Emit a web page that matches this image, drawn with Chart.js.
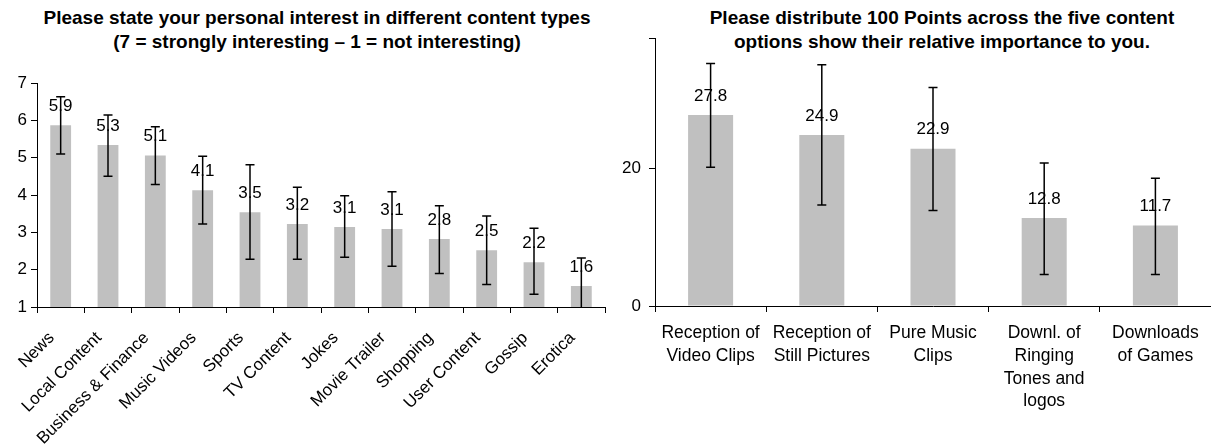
<!DOCTYPE html>
<html>
<head>
<meta charset="utf-8">
<script src="https://cdn.jsdelivr.net/npm/chart.js@4"></script>
<style>
  html, body { margin: 0; padding: 0; background: #fff; overflow: hidden; }
  body { width: 1211px; height: 446px; position: relative; font-family: "Liberation Sans", Arial, sans-serif; }
  .title { position: absolute; font-weight: bold; font-size: 19px; line-height: 24px; text-align: center; color: #000; white-space: nowrap; }
  #t1 { left: 17px; width: 600px; top: 6px; }
  #t2 { left: 642px; width: 600px; top: 6px; }
  #c1 { position: absolute; left: 0; top: 0; }
  #c2 { position: absolute; left: 615px; top: 0; }
</style>
</head>
<body>
<div class="title" id="t1">Please state your personal interest in different content types<br>(7 = strongly interesting – 1 = not interesting)</div>
<div class="title" id="t2">Please distribute 100 Points across the five content<br>options show their relative importance to you.</div>
<canvas id="c1" width="620" height="446"></canvas>
<canvas id="c2" width="596" height="446"></canvas>
<script>
// left chart: interest 7..1
const types=['News','Local Content','Business & Finance','Music Videos','Sports','TV Content','Jokes','Movie Trailer','Shopping','User Content','Gossip','Erotica'];
const interest=[5.87,5.34,5.06,4.13,3.54,3.22,3.14,3.09,2.82,2.52,2.20,1.56];
const interestHigh=[6.63,6.14,5.83,5.04,4.81,4.21,3.98,4.09,3.71,3.44,3.11,2.31];
const interestLow=[5.10,4.50,4.28,3.22,2.28,2.28,2.33,2.09,1.90,1.60,1.34,0.81];
const interestTicks=[1,2,3,4,5,6,7];

// right chart: 100 points
const options5=[['Reception of','Video Clips'],['Reception of','Still Pictures'],['Pure Music','Clips'],['Downl. of','Ringing','Tones and','logos'],['Downloads','of Games']];
const points=[27.8,24.9,22.9,12.8,11.7];
const pointsHigh=[35.3,35.1,31.8,20.8,18.6];
const pointsLow=[20.2,14.7,13.9,4.6,4.6];
const pointsTicks=[0,20,39];

Chart.defaults.font.family='"Liberation Sans", Arial, sans-serif';
Chart.defaults.color='#000';
Chart.defaults.animation=false;

// error bars + value labels
function barExtras(high,low,labelFont){
  return {
    id:'extras',
    afterDatasetsDraw(chart){
      const ctx=chart.ctx, y=chart.scales.y, a=chart.chartArea;
      const meta=chart.getDatasetMeta(0);
      ctx.save();
      // value labels
      ctx.fillStyle='#000';
      ctx.font=labelFont;
      ctx.textAlign='center';
      ctx.textBaseline='middle';
      meta.data.forEach((bar,i)=>{
        const v=chart.data.datasets[0].data[i];
        ctx.fillText(v.toFixed(1),bar.x,bar.y-19);
      });
      ctx.beginPath();
      ctx.rect(a.left,a.top-10,a.right-a.left,a.bottom-a.top+10);
      ctx.clip();
      ctx.strokeStyle='#000';
      ctx.lineWidth=1.5;
      meta.data.forEach((bar,i)=>{
        const yh=y.getPixelForValue(high[i]);
        const yl=y.getPixelForValue(low[i]);
        ctx.beginPath();
        ctx.moveTo(bar.x,yh);ctx.lineTo(bar.x,yl);
        ctx.moveTo(bar.x-4.5,yh);ctx.lineTo(bar.x+4.5,yh);
        ctx.moveTo(bar.x-4.5,yl);ctx.lineTo(bar.x+4.5,yl);
        ctx.stroke();
      });
      ctx.restore();
    }
  };
}

new Chart(document.getElementById('c1'),{
  type:'bar',
  data:{
    labels:types,
    datasets:[{data:interest,backgroundColor:'#c0c0c0',barPercentage:0.44,categoryPercentage:1}]
  },
  options:{
    responsive:false,
    layout:{padding:{top:83,left:0,right:15,bottom:0}},
    plugins:{legend:{display:false},tooltip:{enabled:false}},
    scales:{
      x:{
        grid:{display:true,drawOnChartArea:false,offset:true,tickLength:6,color:'#000'},
        border:{color:'#000',width:1},
        ticks:{font:{size:17},minRotation:45,maxRotation:45,autoSkip:false,padding:15,labelOffset:-9},
        afterFit(s){s.height=446-307;}
      },
      y:{
        min:1,max:7,
        afterBuildTicks(s){s.ticks=interestTicks.map(v=>({value:v}));},
        grid:{display:true,drawOnChartArea:false,tickLength:6,color:'#000'},
        border:{color:'#000',width:1},
        ticks:{font:{size:17},padding:4},
        afterFit(s){s.width=37;}
      }
    }
  },
  plugins:[barExtras(interestHigh,interestLow,'17px "Liberation Sans", Arial, sans-serif')]
});

new Chart(document.getElementById('c2'),{
  type:'bar',
  data:{
    labels:options5,
    datasets:[{data:points,backgroundColor:'#c0c0c0',barPercentage:0.405,categoryPercentage:1}]
  },
  options:{
    responsive:false,
    layout:{padding:{top:38,left:0,right:0,bottom:0}},
    plugins:{legend:{display:false},tooltip:{enabled:false}},
    scales:{
      x:{
        grid:{display:true,drawOnChartArea:false,offset:true,tickLength:6,color:'#000'},
        border:{color:'#000',width:1},
        ticks:{font:{size:17.5,lineHeight:1.3},maxRotation:0,autoSkip:false,padding:10},
        afterFit(s){s.height=446-306;}
      },
      y:{
        min:0,max:39,
        afterBuildTicks(s){s.ticks=pointsTicks.map(v=>({value:v}));},
        grid:{display:true,drawOnChartArea:false,tickLength:6,color:'#000'},
        border:{color:'#000',width:1},
        ticks:{font:{size:17},padding:8,callback:(v)=>v===39?'':v},
        afterFit(s){s.width=40;}
      }
    }
  },
  plugins:[barExtras(pointsHigh,pointsLow,'17px "Liberation Sans", Arial, sans-serif')]
});
</script>
</body>
</html>
